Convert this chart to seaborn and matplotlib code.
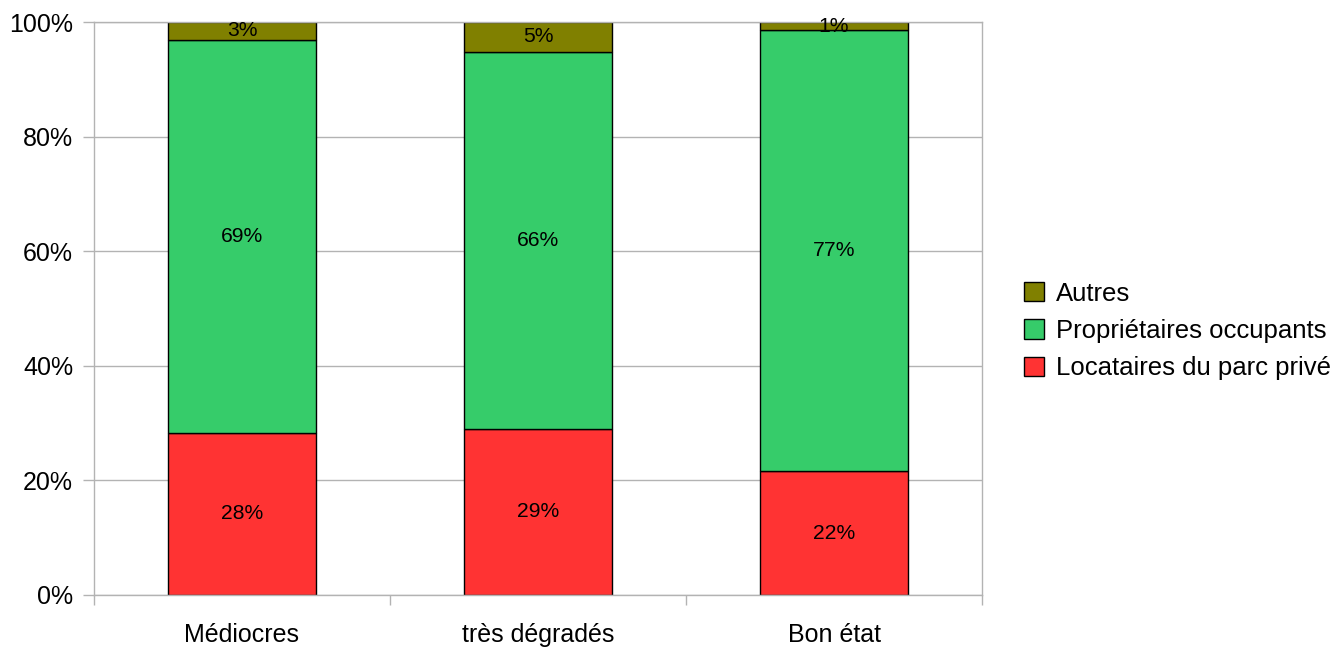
import matplotlib
matplotlib.use("Agg")
import matplotlib.pyplot as plt
import matplotlib.patches as mpatches
from matplotlib.ticker import PercentFormatter, FixedLocator
import seaborn as sns
import pandas as pd

# Housing condition categories and occupancy-status shares (%)
categories = ["Médiocres", "très dégradés", "Bon état"]
locataires = [28.3, 29.0, 21.6]
proprietaires = [68.6, 65.8, 77.0]
autres = [3.1, 5.2, 1.4]
labels_locataires = ["28%", "29%", "22%"]
labels_proprietaires = ["69%", "66%", "77%"]
labels_autres = ["3%", "5%", "1%"]
series_names = ["Locataires du parc privé", "Propriétaires occupants", "Autres"]
colors = ["#ff3333", "#36cc6a", "#808000"]

sns.set_theme(style="white")
plt.rcParams["font.family"] = ["Liberation Sans", "DejaVu Sans"]
plt.rcParams["text.color"] = "black"
plt.rcParams["axes.labelcolor"] = "black"

df = pd.DataFrame({
    "cat": categories,
    "loc": locataires,
    "prop": proprietaires,
    "aut": autres,
})
df["base_prop"] = df["loc"]
df["base_aut"] = df["loc"] + df["prop"]

fig = plt.figure(figsize=(13.36, 6.49), dpi=100)
ax = fig.add_axes([94 / 1336, 1 - 595 / 649, (982 - 94) / 1336, (595 - 22) / 649])

ax.set_axisbelow(True)
ax.yaxis.grid(True, color="#b3b3b3", linewidth=1)

layers = [
    ("loc", None, colors[0], labels_locataires),
    ("prop", "base_prop", colors[1], labels_proprietaires),
    ("aut", "base_aut", colors[2], labels_autres),
]
for col, base, color, lbls in layers:
    kw = {}
    if base is not None:
        kw["bottom"] = df[base].values
    n_before = len(ax.patches)
    sns.barplot(data=df, x="cat", y=col, color=color, width=0.5,
                edgecolor="black", linewidth=1, saturation=1, ax=ax, **kw)
    bars = ax.patches[n_before:]
    for bar, txt in zip(bars, lbls):
        cx = bar.get_x() + bar.get_width() / 2
        cy = bar.get_y() + bar.get_height() / 2
        ax.text(cx, cy, txt, ha="center", va="center", fontsize=15.2, color="black")

ax.set_ylim(0, 100)
ax.set_xlim(-0.5, 2.5)
ax.set_yticks([0, 20, 40, 60, 80, 100])
ax.yaxis.set_major_formatter(PercentFormatter(decimals=0))
ax.set_xlabel("")
ax.set_ylabel("")

ax.xaxis.set_minor_locator(FixedLocator([-0.5, 0.5, 1.5, 2.5]))
ax.tick_params(axis="x", which="major", length=0, labelsize=18, pad=20, colors="black")
ax.tick_params(axis="x", which="minor", length=7.5, width=1, color="#b3b3b3", bottom=True)
ax.tick_params(axis="y", which="major", length=8, width=1, color="#b3b3b3",
               labelsize=18, pad=7, left=True, labelcolor="black")

for side in ["left", "right", "top", "bottom"]:
    ax.spines[side].set_visible(True)
    ax.spines[side].set_color("#b3b3b3")
    ax.spines[side].set_linewidth(1)

handles = [mpatches.Patch(facecolor=colors[i], edgecolor="black", linewidth=1,
                          label=series_names[i]) for i in [2, 1, 0]]
leg = fig.legend(handles=handles, loc="center left", bbox_to_anchor=(1024 / 1336, 1 - 331 / 649),
                 frameon=False, fontsize=18.5, handlelength=0.78, handleheight=0.78,
                 handletextpad=0.45, labelspacing=0.52, borderaxespad=0, borderpad=0)
for t in leg.get_texts():
    t.set_color("black")

fig.savefig("out.png", dpi=100)
